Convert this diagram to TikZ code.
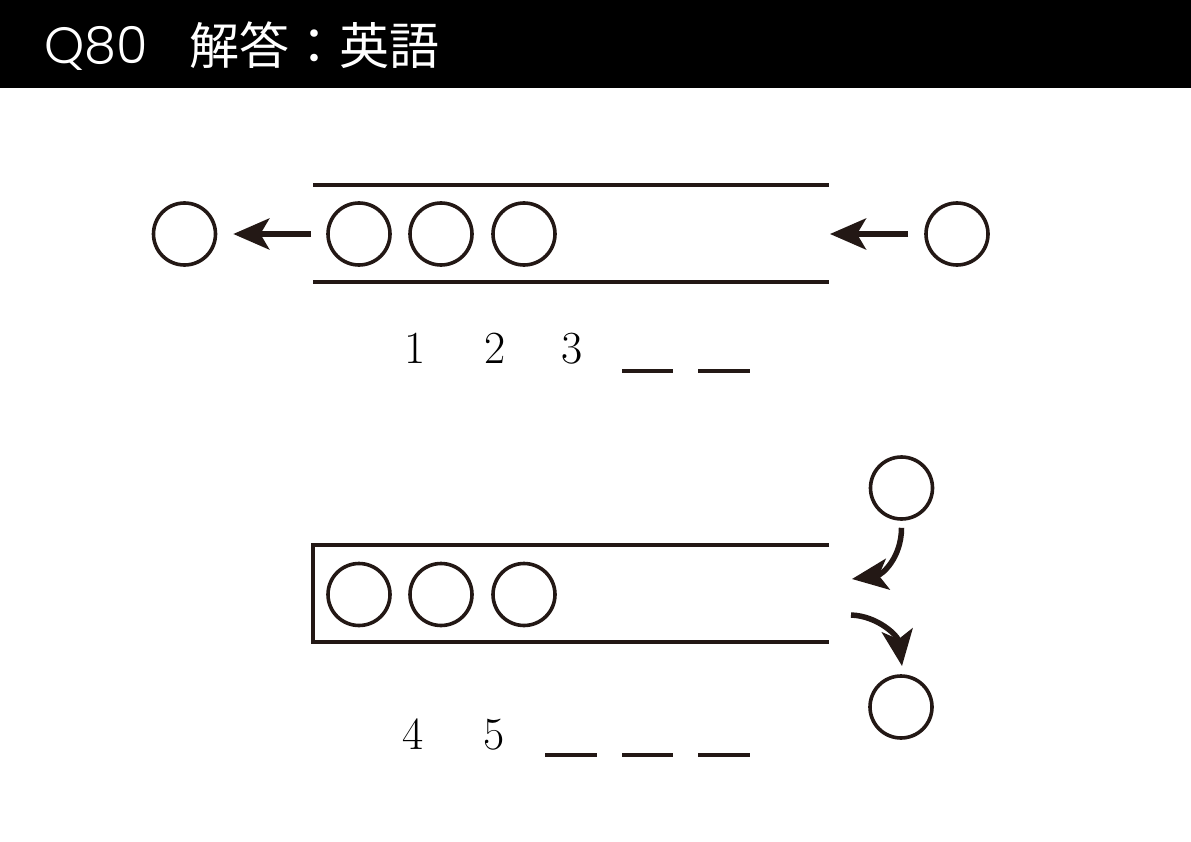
\documentclass[tikz,border=0pt]{standalone}
\usepackage{fontspec}
\newfontfamily\cjk{Noto Sans CJK JP}
\newfontfamily\qfont{Poppins}[UprightFont=* Light]
\usetikzlibrary{arrows.meta}
\definecolor{ink}{HTML}{231815}
\tikzset{
  ball/.style={circle, draw=ink, line width=3.6pt, minimum size=62pt, inner sep=0pt},
  rail/.style={draw=ink, line width=4pt},
  arr/.style={draw=ink, line width=5.5pt, -{Stealth[length=36pt, width=31pt, inset=9pt]}},
  blank/.style={draw=ink, line width=4pt},
  num/.style={font=\fontsize{46}{46}\selectfont, text=black, anchor=base, inner sep=0pt},
  head/.style={font=\cjk\fontsize{50}{50}\selectfont, text=white, anchor=base west, inner sep=0pt}
}
\begin{document}
\begin{tikzpicture}[x=1pt, y=-1pt]
\useasboundingbox (0,0) rectangle (1191,842);
\fill[black] (0,0) rectangle (1191,88);
\node[head, font=\qfont\fontsize{51}{51}\selectfont] (q) at (44,64) {Q80};
\node[head] (title) at (189,65) {解答：英語};

% top channel
\draw[rail] (313,185) -- (829,185);
\draw[rail] (313,282) -- (829,282);
\node[ball] (tl) at (184.5,234) {};
\node[ball] (t1) at (359,234) {};
\node[ball] (t2) at (441,234) {};
\node[ball] (t3) at (524,234) {};
\node[ball] (tr) at (957,234) {};
\coordinate (tin) at (830,234);
\draw[arr, shorten <=15pt, shorten >=16pt] (t1) -- (tl);
\draw[arr, shorten <=16pt] (tr) -- (tin);

\node[num] (n1) at (415,363) {1};
\node[num] (n2) at (495,363) {2};
\node[num] (n3) at (572,363) {3};
\draw[blank] (622,371) -- (673,371);
\draw[blank] (698,371) -- (750,371);

% bottom stack
\draw[rail] (829,545) -- (313,545) -- (313,642) -- (829,642);
\node[ball] (b1) at (359,594.5) {};
\node[ball] (b2) at (441,594.5) {};
\node[ball] (b3) at (524,594.5) {};
\node[ball] (bt) at (901.5,488) {};
\node[ball] (bb) at (901,707) {};
\coordinate (bin) at (852,579);
\coordinate (bout) at (851,615);
\coordinate (boutend) at (902,666);
\draw[arr] ([yshift=-7pt]bt.south) .. controls +(0,30) and (882,575) .. (bin);
\draw[arr] (bout) .. controls (878,616) and (898,636) .. (boutend);

\node[num] (n4) at (413,749) {4};
\node[num] (n5) at (494,749) {5};
\draw[blank] (545,755) -- (597,755);
\draw[blank] (622,755) -- (673,755);
\draw[blank] (698,755) -- (750,755);
\end{tikzpicture}
\end{document}
